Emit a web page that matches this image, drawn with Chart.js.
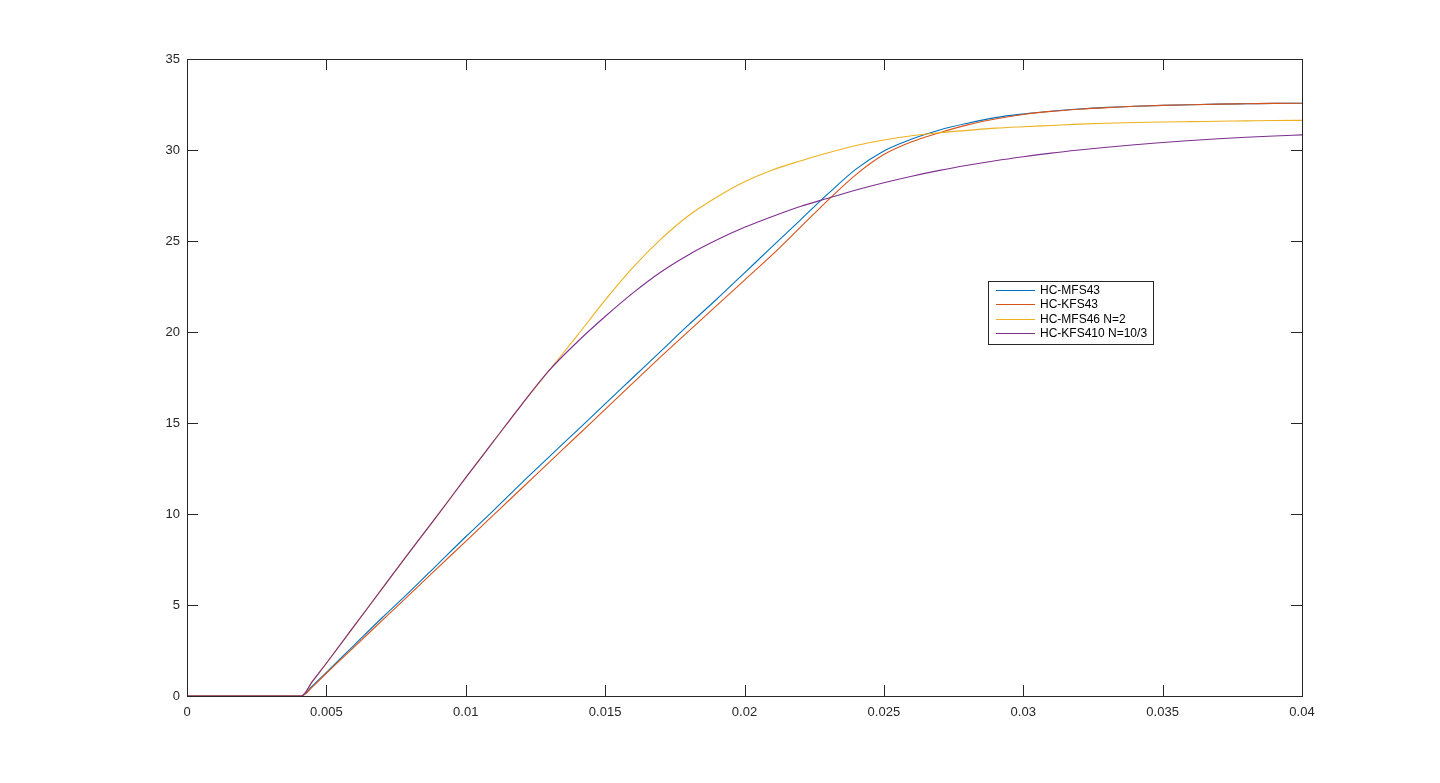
<!DOCTYPE html>
<html>
<head>
<meta charset="utf-8">
<title>HC curves</title>
<script src="https://cdn.jsdelivr.net/npm/chart.js@4/dist/chart.umd.min.js"></script>
<style>
  html, body { margin: 0; padding: 0; background: #fff; }
  #wrap { width: 1440px; height: 783px; }
</style>
</head>
<body>
<div id="wrap"><canvas id="myChart" width="1440" height="783"></canvas></div>
<script>
// time axis (s)
var tVals = [0, 0.0041, 0.0045, 0.005, 0.006, 0.007, 0.008, 0.009, 0.010, 0.011, 0.012, 0.013,
  0.014, 0.015, 0.016, 0.017, 0.018, 0.019, 0.020, 0.021, 0.022, 0.023, 0.024, 0.025, 0.026,
  0.027, 0.028, 0.029, 0.030, 0.031, 0.032, 0.033, 0.034, 0.035, 0.036, 0.037, 0.038, 0.039, 0.040];

var mfs43 = [0, 0, 0.55, 1.3, 2.8, 4.3, 5.75, 7.25, 8.75, 10.2, 11.7, 13.15,
  14.6, 16.05, 17.5, 18.95, 20.4, 21.8, 23.25, 24.7, 26.15, 27.6, 28.95, 29.95, 30.6,
  31.1, 31.47, 31.78, 31.98, 32.13, 32.25, 32.34, 32.4, 32.45, 32.49, 32.52, 32.54, 32.56, 32.57];

var kfs43 = [0, 0, 0.5, 1.25, 2.7, 4.15, 5.6, 7.05, 8.5, 9.95, 11.4, 12.85,
  14.3, 15.75, 17.2, 18.65, 20.05, 21.45, 22.85, 24.25, 25.75, 27.25, 28.65, 29.75, 30.45,
  30.95, 31.38, 31.7, 31.95, 32.12, 32.24, 32.33, 32.4, 32.45, 32.49, 32.52, 32.54, 32.56, 32.57];

var mfs46 = [0, 0, 0.8, 1.8, 3.85, 5.9, 7.95, 9.95, 12.0, 14.0, 16.0, 17.9,
  19.8, 21.75, 23.55, 25.1, 26.4, 27.4, 28.25, 28.9, 29.4, 29.85, 30.25, 30.55, 30.78,
  30.95, 31.08, 31.2, 31.28, 31.35, 31.42, 31.47, 31.51, 31.54, 31.56, 31.58, 31.6, 31.62, 31.63];

var kfs410 = [0, 0, 0.8, 1.8, 3.85, 5.9, 7.95, 9.95, 12.0, 14.0, 16.0, 17.9,
  19.45, 20.85, 22.15, 23.3, 24.25, 25.05, 25.75, 26.35, 26.9, 27.35, 27.8, 28.2, 28.56,
  28.88, 29.16, 29.41, 29.63, 29.83, 30.0, 30.15, 30.29, 30.41, 30.52, 30.62, 30.7, 30.77, 30.83];

var seriesNames = ['HC-MFS43', 'HC-KFS43', 'HC-MFS46 N=2', 'HC-KFS410 N=10/3'];
var seriesColors = ['#0072BD', '#D95319', '#EDB120', '#7E2F8E'];
var seriesValues = [mfs43, kfs43, mfs46, kfs410];

var axisColor = '#262626';

function toPoints(ys) {
  return tVals.map(function (t, i) { return { x: t, y: ys[i] }; });
}

// box, inward ticks on all four sides (matlab look)
var boxPlugin = {
  id: 'boxTicks',
  afterDatasetsDraw: function (chart) {
    var ctx = chart.ctx, a = chart.chartArea;
    var xs = chart.scales.x, ys = chart.scales.y;
    var len = 11;
    ctx.save();
    ctx.strokeStyle = axisColor;
    ctx.lineWidth = 1;
    ctx.beginPath();
    xs.ticks.forEach(function (tk) {
      var px = Math.round(xs.getPixelForValue(tk.value)) + 0.5;
      ctx.moveTo(px, a.bottom); ctx.lineTo(px, a.bottom - len);
      ctx.moveTo(px, a.top); ctx.lineTo(px, a.top + len);
    });
    ys.ticks.forEach(function (tk) {
      var py = Math.round(ys.getPixelForValue(tk.value)) + 0.5;
      ctx.moveTo(a.left, py); ctx.lineTo(a.left + len, py);
      ctx.moveTo(a.right, py); ctx.lineTo(a.right - len, py);
    });
    ctx.stroke();
    ctx.strokeRect(Math.round(a.left) + 0.5, Math.round(a.top) + 0.5,
      Math.round(a.right - a.left), Math.round(a.bottom - a.top));
    ctx.restore();
  }
};

// legend box inside the axes
var legendPlugin = {
  id: 'boxLegend',
  afterDraw: function (chart) {
    var ctx = chart.ctx, a = chart.chartArea;
    var left = Math.round(a.left + (a.right - a.left) * 0.7184);
    var top = Math.round(a.top + (a.bottom - a.top) * 0.3485);
    var rowH = 14.3, lineLen = 39;
    ctx.save();
    ctx.font = '12px "Liberation Sans", Arial, sans-serif';
    var maxW = 0;
    chart.data.datasets.forEach(function (ds) {
      maxW = Math.max(maxW, ctx.measureText(ds.label).width);
    });
    var w = 8 + lineLen + 5 + maxW + 6;
    var h = 63;
    ctx.fillStyle = '#fff';
    ctx.fillRect(left, top, w, h);
    ctx.strokeStyle = axisColor;
    ctx.lineWidth = 1;
    ctx.strokeRect(left + 0.5, top + 0.5, Math.round(w), h);
    ctx.textBaseline = 'middle';
    chart.data.datasets.forEach(function (ds, i) {
      var y = Math.round(top + 9 + i * rowH) + 0.5;
      ctx.strokeStyle = ds.borderColor;
      ctx.lineWidth = 1;
      ctx.beginPath();
      ctx.moveTo(left + 8, y);
      ctx.lineTo(left + 8 + lineLen, y);
      ctx.stroke();
      ctx.fillStyle = '#000';
      ctx.fillText(ds.label, left + 8 + lineLen + 5, y);
    });
    ctx.restore();
  }
};

var datasets = seriesNames.map(function (name, i) {
  return {
    label: name,
    data: toPoints(seriesValues[i]),
    borderColor: seriesColors[i],
    backgroundColor: seriesColors[i],
    borderWidth: 1.1,
    pointRadius: 0,
    fill: false,
    cubicInterpolationMode: 'monotone',
    order: seriesNames.length - 1 - i
  };
});

var ctx = document.getElementById('myChart');
var myChart = new Chart(ctx, {
  type: 'line',
  data: { datasets: datasets },
  options: {
    responsive: false,
    animation: false,
    devicePixelRatio: 1,
    layout: { padding: { left: 0, top: 59, right: 138, bottom: 0 } },
    plugins: {
      legend: { display: false },
      tooltip: { enabled: false }
    },
    scales: {
      x: {
        type: 'linear',
        min: 0,
        max: 0.04,
        afterFit: function (s) { s.height = 87; },
        grid: { display: false, drawTicks: false },
        border: { display: false },
        ticks: {
          stepSize: 0.005,
          padding: 9,
          color: axisColor,
          maxRotation: 0,
          font: { family: '"Liberation Sans", Arial, sans-serif', size: 13 },
          callback: function (v) { return String(+v.toFixed(4)); }
        }
      },
      y: {
        type: 'linear',
        min: 0,
        max: 35,
        afterFit: function (s) { s.width = 187; },
        grid: { display: false, drawTicks: false },
        border: { display: false },
        ticks: {
          stepSize: 5,
          padding: 7,
          color: axisColor,
          font: { family: '"Liberation Sans", Arial, sans-serif', size: 13 }
        }
      }
    }
  },
  plugins: [boxPlugin, legendPlugin]
});
</script>
</body>
</html>
